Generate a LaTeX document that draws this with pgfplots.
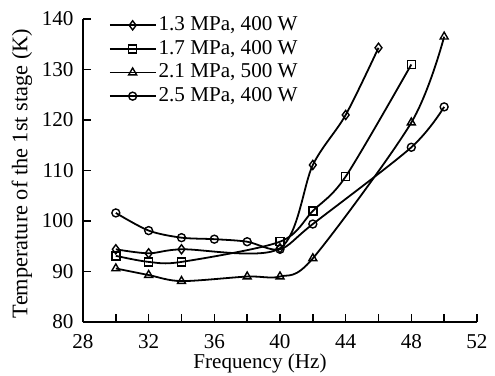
\documentclass[border=0pt]{standalone}
\usepackage{pgfplots}
\pgfplotsset{compat=1.18}
\usepackage{fontspec}
\setmainfont{Liberation Serif}
\begin{document}
\fontsize{10.6}{12.5}\selectfont
\begin{tikzpicture}
\begin{axis}[
  scale only axis,
  width=197bp, height=151.5bp,
  xmin=28, xmax=52, ymin=80, ymax=140,
  axis x line=bottom, axis y line=left,
  axis line style={-, line width=0.9pt},
  tick align=inside,
  xtick={28,32,...,52}, minor xtick={30,34,...,50},
  ytick={80,90,...,140},
  major tick length=4bp, minor tick length=4bp,
  tick style={line width=0.8pt, black},
  /pgf/number format/assume math mode=true,
  ticklabel style={font=\fontsize{10.6}{12.5}\selectfont},
  xticklabel style={anchor=center, yshift=-10bp},
  yticklabel style={anchor=east, xshift=-1bp},
  xlabel={Frequency (Hz)},
  ylabel={Temperature of the 1st stage (K)},
  every axis x label/.style={at={(axis description cs:0.5,0)}, xshift=-10bp, yshift=-20.5bp, anchor=center, font=\fontsize{10.6}{12.5}\selectfont},
  every axis y label/.style={at={(axis description cs:0,0.49)}, xshift=-30.5bp, rotate=90, anchor=center, font=\fontsize{11.2}{13}\selectfont},
  legend style={draw=none, fill=none, at={(0.05,1.03)}, anchor=north west,
    font=\fontsize{10.6}{12.5}\selectfont, row sep=0.8bp,
    nodes={inner sep=1.2bp}},
  legend cell align=left,
  legend image code/.code={\draw[mark repeat=2,mark phase=2,#1] plot coordinates {(0,0) (0.4cm,0) (0.8cm,0)};},
]
\addplot[black, line width=0.9pt, smooth, mark=diamond, mark size=2.3pt, mark options={fill=white, solid, line width=0.7pt}] coordinates {(30,94.4) (32,93.6) (34,94.4) (40,94.6) (42,111.1) (44,121.0) (46,134.3)};
\addlegendentry{1.3 MPa, 400 W}
\addplot[black, line width=0.9pt, smooth, mark=square, mark size=2pt, mark options={fill=white, solid, line width=0.7pt}] coordinates {(30,93.1) (32,91.9) (34,91.9) (40,95.9) (42,102.0) (44,108.8) (48,131.0)};
\addlegendentry{1.7 MPa, 400 W}
\addplot[black, line width=0.9pt, smooth, mark=triangle, mark size=2.3pt, mark options={fill=white, solid, line width=0.7pt}] coordinates {(30,90.6) (32,89.3) (34,88.1) (38,89.0) (40,89.0) (42,92.6) (48,119.5) (50,136.5)};
\addlegendentry{2.1 MPa, 500 W}
\addplot[black, line width=0.9pt, smooth, mark=o, mark size=2pt, mark options={fill=white, solid, line width=0.7pt}] coordinates {(30,101.6) (32,98.1) (34,96.7) (36,96.4) (38,95.9) (40,94.4) (42,99.4) (48,114.6) (50,122.6)};
\addlegendentry{2.5 MPa, 400 W}
\end{axis}
\pgfresetboundingbox
\useasboundingbox (-41.5bp,-27bp) rectangle (206bp,161bp);
\end{tikzpicture}
\end{document}
